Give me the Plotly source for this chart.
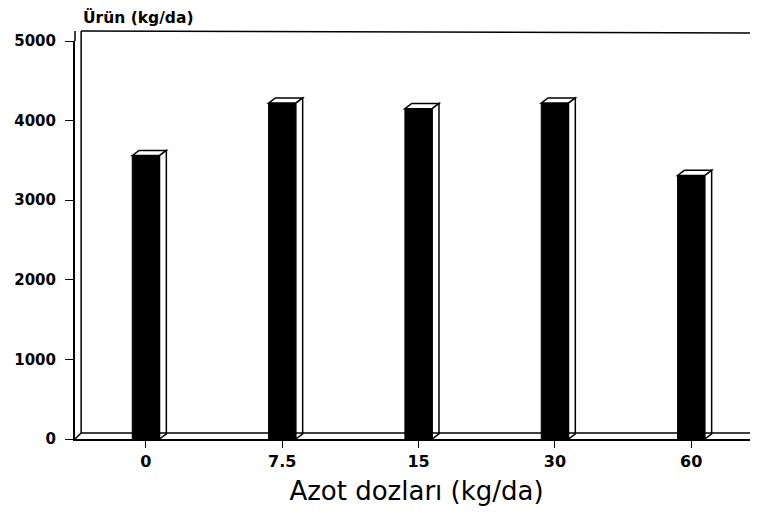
import plotly.graph_objects as go

categories = ["0", "7.5", "15", "30", "60"]
yields = [3560, 4220, 4150, 4220, 3310]
y_ticks = [0, 1000, 2000, 3000, 4000, 5000]

x_idx = list(range(len(categories)))
bar_w = 0.2
dx = 0.05   # depth offset in category units
dy = 65     # depth offset in value units

fig = go.Figure()
fig.add_trace(go.Bar(
    x=x_idx, y=yields, width=bar_w,
    marker=dict(color="black", line=dict(color="black", width=1)),
    hoverinfo="x+y",
))

shapes = []
for i, v in zip(x_idx, yields):
    l, r = i - bar_w / 2, i + bar_w / 2
    shapes.append(dict(type="path", xref="x", yref="y",
                       path=f"M {l},{v} L {l+dx},{v+dy} L {r+dx},{v+dy} L {r},{v} Z",
                       fillcolor="white", line=dict(color="black", width=1.5)))
    shapes.append(dict(type="path", xref="x", yref="y",
                       path=f"M {r},{v} L {r+dx},{v+dy} L {r+dx},{dy} L {r},0 Z",
                       fillcolor="white", line=dict(color="black", width=1.5)))

shapes += [
    dict(type="line", xref="paper", yref="paper", x0=0.009, x1=0.009, y0=0.015, y1=1.025,
         line=dict(color="black", width=1.5)),
    dict(type="line", xref="paper", yref="paper", x0=0.009, x1=1.03, y0=1.025, y1=1.02,
         line=dict(color="black", width=1.5)),
    dict(type="line", xref="paper", yref="paper", x0=0.009, x1=1.03, y0=0.015, y1=0.015,
         line=dict(color="black", width=1.5)),
    dict(type="line", xref="paper", yref="paper", x0=0.0, x1=0.009, y0=0.0, y1=0.015,
         line=dict(color="black", width=1.5)),
    dict(type="line", xref="paper", yref="paper", x0=0.0, x1=0.0, y0=1.0, y1=1.025,
         line=dict(color="black", width=1.5)),
]

fig.update_layout(
    width=758, height=513,
    margin=dict(l=67, r=8, t=33, b=82),
    paper_bgcolor="white", plot_bgcolor="white",
    showlegend=False,
    shapes=shapes,
    font=dict(family="DejaVu Sans", color="black"),
    annotations=[dict(text="<b>Ürün (kg/da)</b>", xref="paper", yref="paper",
                      x=0.0, y=1.0, xshift=6, yshift=24, xanchor="left", yanchor="middle",
                      showarrow=False, font=dict(size=15.5, family="DejaVu Sans"))],
)
fig.update_xaxes(
    range=[-0.52, 4.49], tickvals=x_idx, ticktext=categories,
    showline=True, linecolor="black", linewidth=2, automargin=False,
    ticks="outside", ticklen=7, tickcolor="black",
    tickfont=dict(size=16, family="DejaVu Sans", weight="bold"),
    showgrid=False, zeroline=False,
    title=dict(text="Azot dozları (kg/da)", font=dict(size=26, family="DejaVu Sans"), standoff=12),
)
fig.update_yaxes(
    range=[0, 5000], tickvals=y_ticks, ticktext=[str(t) for t in y_ticks],
    showline=True, linecolor="black", linewidth=2, automargin=False,
    ticks="outside", ticklen=8, tickcolor="black", ticklabelstandoff=6,
    tickfont=dict(size=15, family="DejaVu Sans", weight="bold"),
    showgrid=False, zeroline=False,
)

fig.write_html("out.html")
